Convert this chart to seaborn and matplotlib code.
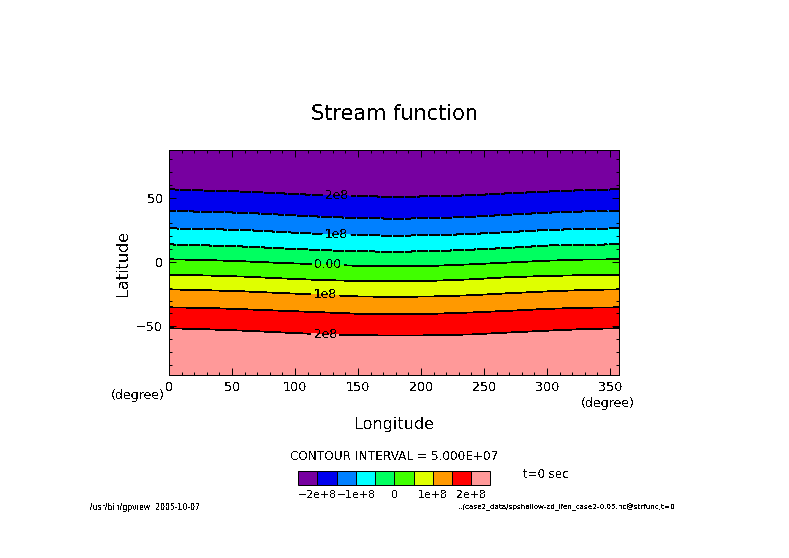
import numpy as np
import matplotlib
matplotlib.use("Agg")
import matplotlib.pyplot as plt
from matplotlib.colors import ListedColormap
import seaborn as sns

lon = [0, 30, 60, 90, 120, 150, 180, 210, 240, 270, 300, 330, 357.2]

# Latitude of each contour line at those longitudes
lat_m200 = [56.6, 55.6, 54.8, 53.4, 52.0, 51.2, 50.8, 51.1, 52.0, 53.5, 54.8, 56.0, 56.6]
lat_m150 = [39.9, 39.0, 38.3, 36.8, 35.3, 34.2, 33.7, 34.1, 35.2, 36.8, 38.4, 39.4, 39.9]
lat_m100 = [26.2, 25.6, 24.9, 23.3, 21.8, 20.8, 20.5, 20.8, 21.8, 23.3, 24.9, 25.8, 26.2]
lat_m050 = [13.7, 12.9, 12.0, 10.6, 9.3, 8.3, 8.0, 8.4, 9.6, 11.0, 12.8, 13.5, 13.7]
lat_000 = [2.1, 1.5, 0.5, -0.8, -1.8, -3.0, -3.4, -3.0, -1.8, -0.4, 1.0, 1.9, 2.1]
lat_p050 = [-9.9, -10.5, -11.4, -12.8, -14.0, -14.8, -15.0, -14.6, -13.5, -11.8, -10.9, -10.2, -9.9]
lat_p100 = [-21.3, -22.0, -22.9, -24.2, -25.5, -26.8, -27.2, -26.8, -25.9, -24.3, -22.9, -21.8, -21.3]
lat_p150 = [-35.3, -35.8, -36.8, -38.0, -39.1, -40.3, -40.7, -40.3, -39.3, -38.0, -36.5, -35.6, -35.3]
lat_p200 = [-51.6, -52.4, -53.5, -54.9, -56.2, -57.0, -57.3, -57.1, -56.4, -54.9, -53.5, -52.2, -51.6]

line_levels = [-2e8, -1.5e8, -1e8, -0.5e8, 0, 0.5e8, 1e8, 1.5e8, 2e8]
fill_levels = [-2.5e8] + line_levels + [2.5e8]
band_colors = ["#7700a0", "#0000ee", "#0080ff", "#00ffff", "#00ff60",
               "#40ff00", "#dfff00", "#ff9900", "#ff0000", "#ff9999"]

label_levels = [-2e8, -1e8, 0, 1e8, 2e8]
plain_levels = [-1.5e8, -0.5e8, 0.5e8, 1.5e8]
label_text = {-2e8: "2e8", -1e8: "1e8", 0: "0.00", 1e8: "1e8", 2e8: "2e8"}
label_pos = [(133, 51.5), (133, 21.5), (126, -2.2), (124, -26), (124, -56.5)]
cbar_labels = ["\u22122e+8", "\u22121e+8", "0", "1e+8", "2e+8"]

sns.set_theme(style="ticks")
plt.rcParams["font.family"] = ["DejaVu Sans"]
plt.rcParams["text.antialiased"] = False
plt.rcParams["lines.antialiased"] = False
plt.rcParams["text.color"] = "black"
plt.rcParams["axes.labelcolor"] = "black"

W, H = 789, 558
fig = plt.figure(figsize=(W / 100, H / 100), dpi=100)
ax = fig.add_axes([169 / W, 1 - 375 / H, 450 / W, 225 / H])
ax.set_axisbelow(False)

# Curvilinear grid: one row per contour, plus the two poles
lat_rows = [lat_p200, lat_p150, lat_p100, lat_p050, lat_000, lat_m050, lat_m100, lat_m150, lat_m200]
Y = np.array([[-90.0] * len(lon)] + lat_rows + [[90.0] * len(lon)])
X = np.tile(lon, (Y.shape[0], 1))
Z = np.array([[v] * len(lon) for v in [2.5e8] + line_levels[::-1] + [-2.5e8]])

cmap = ListedColormap(sns.color_palette(band_colors))
cf = ax.contourf(X, Y, Z, levels=fill_levels, cmap=cmap, antialiased=False)


def draw_lines(levels):
    styles = [(0, (12, 3.5)) if v < 0 else "solid" for v in levels]
    return ax.contour(X, Y, Z, levels=levels, colors="black", linewidths=0.55,
                      linestyles=styles, antialiased=False)


draw_lines(plain_levels)
cs = draw_lines(label_levels)

ax.set_xlim(0, 357.2)
ax.set_ylim(-88, 87.2)
ax.set_xticks(np.arange(0, 351, 50))
ax.set_xticks(np.arange(0, 351, 10), minor=True)
ax.set_yticks([-50, 0, 50])
ax.set_yticks(np.arange(-80, 81, 10), minor=True)
ax.tick_params(which="major", direction="in", length=4.8, width=0.72, top=True, right=True,
               labelsize=9.2, color="black", labelcolor="black")
ax.tick_params(which="minor", direction="in", length=2.4, width=0.72, top=True, right=True,
               color="black")
ax.tick_params(axis="x", which="major", pad=4)
ax.tick_params(axis="y", which="major", pad=4.5)
for spine in ax.spines.values():
    spine.set_linewidth(0.72)
    spine.set_color("black")

ax.set_xlabel("Longitude", fontsize=11.5)
ax.xaxis.set_label_coords(0.5, -0.185)
ax.set_ylabel("Latitude", fontsize=11.5)
ax.yaxis.set_label_coords(-0.085, 0.5)

labels = ax.clabel(cs, fmt=label_text, manual=label_pos,
                   inline=True, inline_spacing=3, fontsize=8.8, colors="black")
for t in labels:
    t.set_rotation(0)


def put(x, y, s, size, **kw):
    fig.text(x / W, 1 - y / H, s, fontsize=size, va="center", **kw)


put(394.5, 113.5, "Stream function", 15, ha="center")
put(137.5, 395, "(degree)", 9, ha="center")
put(607.5, 403, "(degree)", 9, ha="center")
put(394.5, 456.5, "CONTOUR INTERVAL = 5.000E+07", 8.7, ha="center")
put(546, 475, "t=0 sec", 8.5, ha="center")
put(90, 507, "/usr/bin/gpview  2005-10-07", 5.6, ha="left")
put(675, 507, "../case2_data/spshallow-zd_lfen_case2-0.05.nc@strfunc,t=0", 5.2, ha="right")

cax = fig.add_axes([298 / W, 1 - 484.5 / H, 192.5 / W, 13.5 / H])
cb = fig.colorbar(cf, cax=cax, orientation="horizontal", ticks=label_levels, drawedges=True)
cb.ax.set_xticklabels(cbar_labels)
cb.ax.tick_params(length=0, labelsize=7.8, pad=4, labelcolor="black")
cb.outline.set_linewidth(0.72)
cb.outline.set_edgecolor("black")
cb.dividers.set_color("black")
cb.dividers.set_linewidth(0.72)

fig.savefig("out.png", dpi=100)
